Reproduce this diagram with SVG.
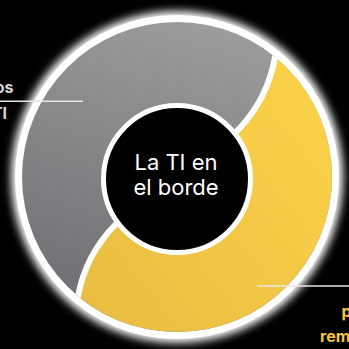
<svg xmlns="http://www.w3.org/2000/svg" width="349" height="349" viewBox="0 0 349 349">
<defs>
<linearGradient id="gGray" x1="0.6" y1="0" x2="0.3" y2="1">
<stop offset="0" stop-color="#9c9c9e"/>
<stop offset="1" stop-color="#6c6d70"/>
</linearGradient>
<linearGradient id="gYel" x1="0.9" y1="0.1" x2="0.1" y2="0.9">
<stop offset="0" stop-color="#fdd44b"/>
<stop offset="1" stop-color="#e8bd41"/>
</linearGradient>
<filter id="glow" x="-20%" y="-20%" width="140%" height="140%">
<feGaussianBlur stdDeviation="4"/>
</filter>
<clipPath id="disk"><circle cx="177" cy="177" r="155"/></clipPath>
<style>
.sep{fill:none;stroke:#fff;stroke-width:6}
.lead{stroke:#e6e6e6;stroke-width:1.5}
.lbl{font-family:Inter,"Liberation Sans",sans-serif;font-weight:700;font-size:16px}
.ctr{font-family:Inter,"Liberation Sans",sans-serif;font-size:22px;fill:#fff;text-anchor:middle}
</style>
</defs>
<rect width="349" height="349" fill="#000"/>
<g id="ring-border">
<circle cx="177" cy="177" r="166" fill="#fff" filter="url(#glow)"/>
<circle cx="177" cy="177" r="162" fill="#fff"/>
</g>
<g id="segment-gray">
<circle cx="177" cy="177" r="155" fill="url(#gGray)"/>
</g>
<g id="segment-yellow" clip-path="url(#disk)">
<path d="M282,43 L275,57 Q268,98 239,129 L177,178 L116,224 Q86,254 78,296 L70,312 L70,349 L349,349 L349,0 Z" fill="url(#gYel)"/>
</g>
<g id="connectors">
<g clip-path="url(#disk)">
<path class="sep" d="M283,41 L275,57 Q268,98 239,129 L225,142"/>
<path class="sep" d="M128,212 L116,224 Q86,254 78,296 L72,310"/>
</g>
<line class="lead" x1="0" y1="101.3" x2="83" y2="101.3"/>
<line class="lead" x1="257" y1="286" x2="349" y2="286"/>
</g>
<g id="center">
<circle cx="177" cy="179" r="73.5" fill="#000" stroke="#fff" stroke-width="5"/>
<text class="ctr" x="176" y="170">La TI en</text>
<text class="ctr" x="176" y="195">el borde</text>
</g>
<g id="label-left">
<text class="lbl" x="13.5" y="93.3" fill="#d4d4d4" text-anchor="end">os</text>
<text class="lbl" x="7" y="119" fill="#d4d4d4" text-anchor="end">TI</text>
</g>
<g id="label-right">
<text class="lbl" x="341.5" y="316.7" fill="#f4c542">p</text>
<text class="lbl" x="320" y="341.7" fill="#f4c542">rem</text>
</g>
</svg>
